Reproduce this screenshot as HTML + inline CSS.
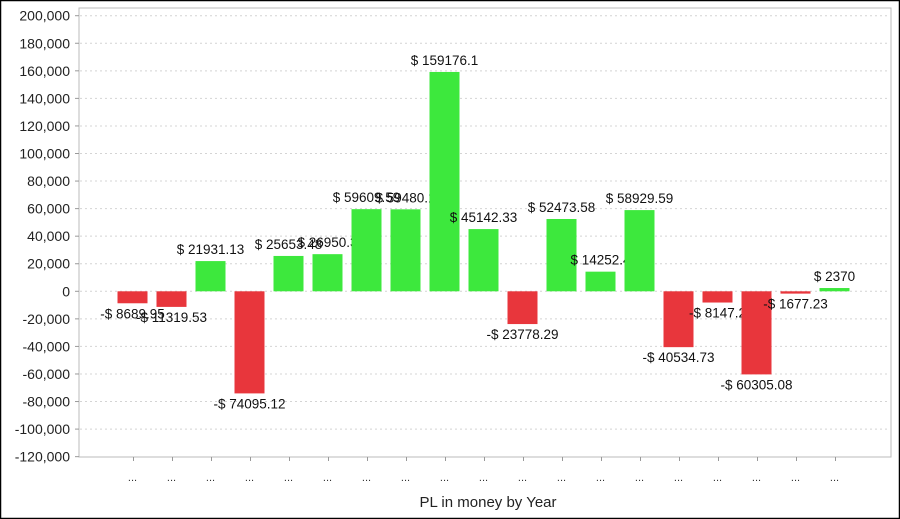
<!DOCTYPE html>
<html><head><meta charset="utf-8"><style>
html,body{margin:0;padding:0;background:#fff}
svg{display:block}
text{font-family:"Liberation Sans",Arial,sans-serif}
</style></head><body>
<svg width="900" height="519" viewBox="0 0 900 519" xmlns="http://www.w3.org/2000/svg">
<rect x="0.5" y="0.5" width="899" height="518" fill="#fff" stroke="#000" stroke-width="1.5"/>
<g id="grid" stroke="#d4d4d4" stroke-dasharray="2,3" stroke-width="1"></g>
<rect x="79" y="8" width="812" height="449" fill="none" stroke="#bbb" stroke-width="1"/>
<g id="ylab" font-size="14" fill="#222" text-anchor="end"></g>
<g id="bars"></g>
<g id="xt" font-size="11" fill="#333" text-anchor="middle"></g>
<text x="488" y="507" font-size="15" fill="#222" text-anchor="middle">PL in money by Year</text>
<script>
var ns="http://www.w3.org/2000/svg";
function el(t,a,p,txt){var e=document.createElementNS(ns,t);for(var k in a)e.setAttribute(k,a[k]);if(txt!=null)e.textContent=txt;p.appendChild(e);return e;}
var y0=291.3,s=27.56/20000;
function Y(v){return y0-v*s;}
var g=document.getElementById('grid'),yl=document.getElementById('ylab');
for(var v=-120000;v<=200000;v+=20000){var y=Y(v);
 if(v>-120000)el('line',{x1:80,x2:890,y1:y,y2:y},g);
 el('line',{x1:75,x2:79,y1:y,y2:y,stroke:'#999'},yl);
 el('text',{x:70,y:y+5},yl,v.toLocaleString('en-US'));}
var vals=[[-8689.95,"-$ 8689.95"],[-11319.53,"-$ 11319.53"],[21931.13,"$ 21931.13"],[-74095.12,"-$ 74095.12"],[25653.48,"$ 25653.48"],[26950.3,"$ 26950.3"],[59609.59,"$ 59609.59"],[59480.1,"$ 59480.1"],[159176.1,"$ 159176.1"],[45142.33,"$ 45142.33"],[-23778.29,"-$ 23778.29"],[52473.58,"$ 52473.58"],[14252.4,"$ 14252.4"],[58929.59,"$ 58929.59"],[-40534.73,"-$ 40534.73"],[-8147.2,"-$ 8147.2"],[-60305.08,"-$ 60305.08"],[-1677.23,"-$ 1677.23"],[2370,"$ 2370"]];
var b=document.getElementById('bars'),xt=document.getElementById('xt');
vals.forEach(function(d,i){var c=132.5+i*39,v=d[0];
 var top=Math.min(Y(v),y0),h=Math.abs(Y(v)-y0);
 el('rect',{x:c-15,y:top,width:30,height:Math.max(h,2),fill:v>=0?'#3de83d':'#e8363c'},b);
 var ty=v>=0?Y(v)-7:Y(v)+15;
 el('text',{x:c,y:ty,'font-size':13.5,fill:'#111','text-anchor':'middle'},b,d[1]);
 el('line',{x1:c+1,x2:c+1,y1:457,y2:461,stroke:'#999'},xt);
 el('text',{x:c,y:481},xt,'...');
});
</script>
</svg>
</body></html>
